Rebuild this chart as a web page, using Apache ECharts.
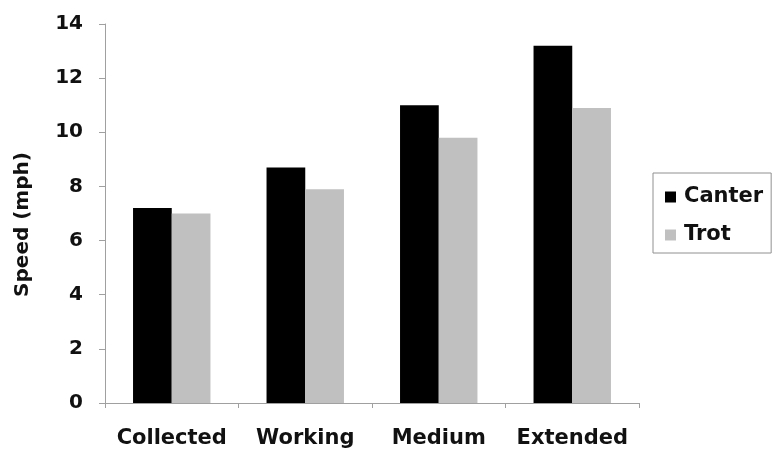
<!DOCTYPE html>
<html>
<head>
<meta charset="utf-8">
<script src="https://cdn.jsdelivr.net/npm/echarts@6/dist/echarts.min.js"></script>
<style>
  html, body { margin: 0; padding: 0; background: #fff; }
  #chart { width: 782px; height: 454px; }
</style>
</head>
<body>
<div id="chart"></div>
<script>
// Average horse speeds per gait variant
const categories = ['Collected', 'Working', 'Medium', 'Extended'];
const canter = [7.2, 8.7, 11.0, 13.2];
const trot = [7.0, 7.9, 9.8, 10.9];
const yTicks = { min: 0, max: 14, interval: 2 };

const FONT = '"DejaVu Sans", Arial, sans-serif';
const axisGray = '#a0a0a0';

const chart = echarts.init(document.getElementById('chart'), null, { renderer: 'canvas' });
chart.setOption({
  animation: false,
  backgroundColor: '#ffffff',
  grid: { left: 105, right: 143, top: 24, bottom: 51, containLabel: false },
  legend: {
    orient: 'vertical',
    left: 653,
    top: 173,
    padding: [12, 8, 6, 12],
    itemGap: 14,
    itemWidth: 11,
    itemHeight: 11,
    borderColor: '#909090',
    borderWidth: 1,
    icon: 'rect',
    textStyle: { fontFamily: FONT, fontSize: 21, fontWeight: 'bold', color: '#111', lineHeight: 24, padding: [0, 0, 0, 3] },
    data: ['Canter', 'Trot']
  },
  xAxis: {
    type: 'category',
    data: categories,
    axisLine: { lineStyle: { color: axisGray, width: 1 } },
    axisTick: { show: true, interval: 0, length: 5, lineStyle: { color: axisGray } },
    axisLabel: { interval: 0, fontFamily: FONT, fontSize: 21, fontWeight: 'bold', color: '#111', margin: 25, hideOverlap: false }
  },
  yAxis: {
    type: 'value',
    min: yTicks.min,
    max: yTicks.max,
    interval: yTicks.interval,
    name: 'Speed (mph)',
    nameLocation: 'middle',
    nameGap: 72,
    nameTextStyle: { fontFamily: FONT, fontSize: 20, fontWeight: 'bold', color: '#111', padding: [0, 0, 0, -22] },
    splitLine: { show: false },
    axisLine: { show: true, lineStyle: { color: axisGray, width: 1 } },
    axisTick: { show: true, length: 6, lineStyle: { color: axisGray } },
    axisLabel: { fontFamily: FONT, fontSize: 20, fontWeight: 'bold', color: '#111', margin: 22 }
  },
  series: [
    {
      name: 'Canter',
      type: 'bar',
      data: canter,
      barGap: '0%',
      barCategoryGap: '42%',
      itemStyle: { color: '#000000' }
    },
    {
      name: 'Trot',
      type: 'bar',
      data: trot,
      barGap: '0%',
      barCategoryGap: '42%',
      itemStyle: { color: '#c0c0c0' }
    }
  ]
});
</script>
</body>
</html>
